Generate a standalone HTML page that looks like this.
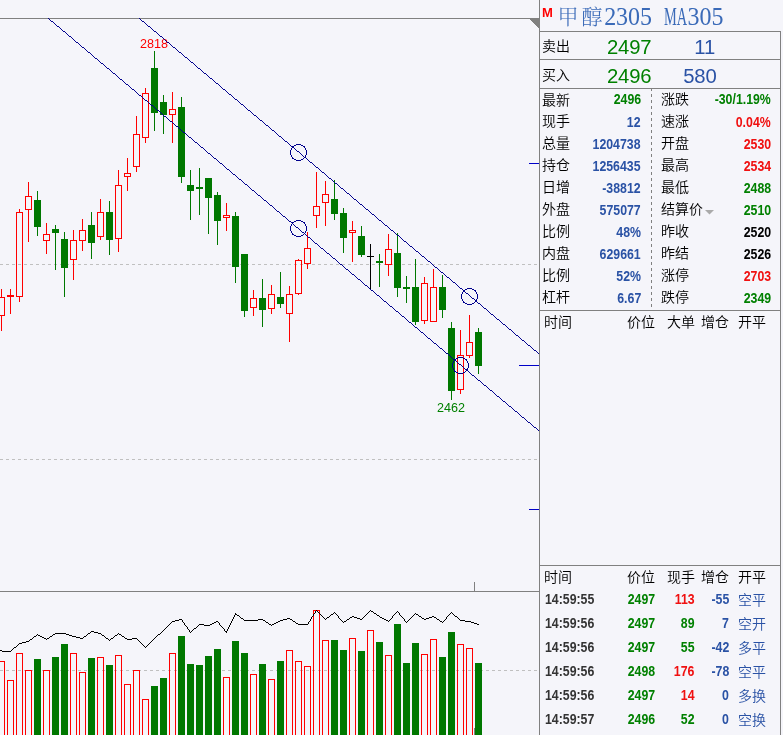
<!DOCTYPE html><html><head><meta charset="utf-8"><title>甲醇2305</title><style>
html,body{margin:0;padding:0;background:#f5f5fa;}
body{width:783px;height:735px;position:relative;overflow:hidden;font-family:"Liberation Sans","Noto Sans CJK SC",sans-serif;}
.a{position:absolute;white-space:nowrap;line-height:1;}
.ln{position:absolute;background:#808080;}
.c{font-size:14px;color:#000;font-weight:350;}
.n{font-size:14px;font-weight:bold;transform:scaleX(0.88);transform-origin:100% 50%;}
.nl{transform-origin:0 50%;}
.g{color:#008000;} .r{color:#f01010;} .b{color:#2a52a5;} .k{color:#000;}
.big{font-size:20.3px;letter-spacing:-0.2px;}
.tl{font-size:24px;letter-spacing:-0.1px;transform:scaleY(1.03);transform-origin:0 0;}
.t{font-family:"Liberation Serif","Noto Serif CJK SC",serif;color:#3a6ab8;font-size:24px;}

</style></head><body>
<svg width="540" height="735" viewBox="0 0 540 735" style="position:absolute;left:0;top:0" shape-rendering="crispEdges">
<rect x="0" y="18" width="540" height="1" fill="#808080"/>
<rect x="0" y="591" width="540" height="1" fill="#808080"/>
<line x1="0" y1="264.5" x2="538" y2="264.5" stroke="#c0c0c0" stroke-width="1" stroke-dasharray="3 3"/>
<line x1="0" y1="459.5" x2="538" y2="459.5" stroke="#c0c0c0" stroke-width="1" stroke-dasharray="3 3"/>
<line x1="0" y1="670.5" x2="538" y2="670.5" stroke="#c0c0c0" stroke-width="1" stroke-dasharray="3 3"/>
<rect x="474" y="582" width="1" height="9" fill="#808080"/>
<rect x="474" y="728" width="1" height="7" fill="#808080"/>
<rect x="1" y="289" width="1" height="8" fill="#ff0000"/>
<rect x="1" y="316" width="1" height="15" fill="#ff0000"/>
<rect x="-1.5" y="297.5" width="6" height="18" fill="none" stroke="#ff0000" stroke-width="1"/>
<rect x="10" y="289" width="1" height="25" fill="#ff0000"/>
<rect x="7" y="295" width="7" height="2" fill="#ff0000"/>
<rect x="19" y="209" width="1" height="3" fill="#ff0000"/>
<rect x="19" y="297" width="1" height="5" fill="#ff0000"/>
<rect x="16.5" y="212.5" width="6" height="84" fill="none" stroke="#ff0000" stroke-width="1"/>
<rect x="28" y="182" width="1" height="14" fill="#ff0000"/>
<rect x="28" y="210" width="1" height="32" fill="#ff0000"/>
<rect x="25.5" y="196.5" width="6" height="13" fill="none" stroke="#ff0000" stroke-width="1"/>
<rect x="37" y="191" width="1" height="45" fill="#007800"/>
<rect x="34" y="200" width="7" height="27" fill="#007800"/>
<rect x="46" y="223" width="1" height="11" fill="#ff0000"/>
<rect x="46" y="241" width="1" height="13" fill="#ff0000"/>
<rect x="43.5" y="234.5" width="6" height="6" fill="none" stroke="#ff0000" stroke-width="1"/>
<rect x="55" y="225" width="1" height="45" fill="#007800"/>
<rect x="52" y="229" width="7" height="4" fill="#007800"/>
<rect x="64" y="232" width="1" height="65" fill="#007800"/>
<rect x="61" y="239" width="7" height="29" fill="#007800"/>
<rect x="73" y="230" width="1" height="10" fill="#ff0000"/>
<rect x="73" y="260" width="1" height="20" fill="#ff0000"/>
<rect x="70.5" y="240.5" width="6" height="19" fill="none" stroke="#ff0000" stroke-width="1"/>
<rect x="82" y="219" width="1" height="11" fill="#ff0000"/>
<rect x="82" y="241" width="1" height="10" fill="#ff0000"/>
<rect x="79.5" y="230.5" width="6" height="10" fill="none" stroke="#ff0000" stroke-width="1"/>
<rect x="91" y="212" width="1" height="47" fill="#007800"/>
<rect x="88" y="225" width="7" height="18" fill="#007800"/>
<rect x="100" y="199" width="1" height="13" fill="#ff0000"/>
<rect x="100" y="237" width="1" height="3" fill="#ff0000"/>
<rect x="97.5" y="212.5" width="6" height="24" fill="none" stroke="#ff0000" stroke-width="1"/>
<rect x="109" y="201" width="1" height="54" fill="#007800"/>
<rect x="106" y="212" width="7" height="28" fill="#007800"/>
<rect x="118" y="170" width="1" height="15" fill="#ff0000"/>
<rect x="118" y="239" width="1" height="13" fill="#ff0000"/>
<rect x="115.5" y="185.5" width="6" height="53" fill="none" stroke="#ff0000" stroke-width="1"/>
<rect x="127" y="158" width="1" height="15" fill="#ff0000"/>
<rect x="127" y="177" width="1" height="14" fill="#ff0000"/>
<rect x="124.5" y="173.5" width="6" height="3" fill="none" stroke="#ff0000" stroke-width="1"/>
<rect x="136" y="116" width="1" height="18" fill="#ff0000"/>
<rect x="136" y="167" width="1" height="5" fill="#ff0000"/>
<rect x="133.5" y="134.5" width="6" height="32" fill="none" stroke="#ff0000" stroke-width="1"/>
<rect x="145" y="88" width="1" height="5" fill="#ff0000"/>
<rect x="145" y="138" width="1" height="5" fill="#ff0000"/>
<rect x="142.5" y="93.5" width="6" height="44" fill="none" stroke="#ff0000" stroke-width="1"/>
<rect x="154" y="51" width="1" height="80" fill="#007800"/>
<rect x="151" y="68" width="7" height="45" fill="#007800"/>
<rect x="163" y="95" width="1" height="39" fill="#007800"/>
<rect x="160" y="102" width="7" height="13" fill="#007800"/>
<rect x="172" y="92" width="1" height="17" fill="#ff0000"/>
<rect x="172" y="115" width="1" height="28" fill="#ff0000"/>
<rect x="169.5" y="109.5" width="6" height="5" fill="none" stroke="#ff0000" stroke-width="1"/>
<rect x="181" y="97" width="1" height="86" fill="#007800"/>
<rect x="178" y="107" width="7" height="70" fill="#007800"/>
<rect x="190" y="170" width="1" height="50" fill="#007800"/>
<rect x="187" y="185" width="7" height="6" fill="#007800"/>
<rect x="199" y="168" width="1" height="47" fill="#007800"/>
<rect x="196" y="187" width="7" height="2" fill="#007800"/>
<rect x="208" y="178" width="1" height="56" fill="#007800"/>
<rect x="205" y="178" width="7" height="20" fill="#007800"/>
<rect x="217" y="192" width="1" height="53" fill="#007800"/>
<rect x="214" y="195" width="7" height="26" fill="#007800"/>
<rect x="226" y="203" width="1" height="12" fill="#ff0000"/>
<rect x="226" y="218" width="1" height="13" fill="#ff0000"/>
<rect x="223.5" y="215.5" width="6" height="2" fill="none" stroke="#ff0000" stroke-width="1"/>
<rect x="235" y="212" width="1" height="71" fill="#007800"/>
<rect x="232" y="216" width="7" height="51" fill="#007800"/>
<rect x="244" y="254" width="1" height="63" fill="#007800"/>
<rect x="241" y="254" width="7" height="57" fill="#007800"/>
<rect x="253" y="290" width="1" height="8" fill="#ff0000"/>
<rect x="253" y="308" width="1" height="8" fill="#ff0000"/>
<rect x="250.5" y="298.5" width="6" height="9" fill="none" stroke="#ff0000" stroke-width="1"/>
<rect x="262" y="279" width="1" height="48" fill="#007800"/>
<rect x="259" y="298" width="7" height="12" fill="#007800"/>
<rect x="271" y="285" width="1" height="9" fill="#ff0000"/>
<rect x="271" y="309" width="1" height="5" fill="#ff0000"/>
<rect x="268.5" y="294.5" width="6" height="14" fill="none" stroke="#ff0000" stroke-width="1"/>
<rect x="280" y="272" width="1" height="36" fill="#007800"/>
<rect x="277" y="297" width="7" height="7" fill="#007800"/>
<rect x="289" y="286" width="1" height="8" fill="#ff0000"/>
<rect x="289" y="314" width="1" height="28" fill="#ff0000"/>
<rect x="286.5" y="294.5" width="6" height="19" fill="none" stroke="#ff0000" stroke-width="1"/>
<rect x="298" y="259" width="1" height="1" fill="#ff0000"/>
<rect x="298" y="294" width="1" height="1" fill="#ff0000"/>
<rect x="295.5" y="260.5" width="6" height="33" fill="none" stroke="#ff0000" stroke-width="1"/>
<rect x="307" y="232" width="1" height="16" fill="#ff0000"/>
<rect x="307" y="264" width="1" height="5" fill="#ff0000"/>
<rect x="304.5" y="248.5" width="6" height="15" fill="none" stroke="#ff0000" stroke-width="1"/>
<rect x="316" y="172" width="1" height="34" fill="#ff0000"/>
<rect x="316" y="216" width="1" height="12" fill="#ff0000"/>
<rect x="313.5" y="206.5" width="6" height="9" fill="none" stroke="#ff0000" stroke-width="1"/>
<rect x="325" y="181" width="1" height="13" fill="#ff0000"/>
<rect x="325" y="203" width="1" height="23" fill="#ff0000"/>
<rect x="322.5" y="194.5" width="6" height="8" fill="none" stroke="#ff0000" stroke-width="1"/>
<rect x="334" y="180" width="1" height="40" fill="#007800"/>
<rect x="331" y="199" width="7" height="15" fill="#007800"/>
<rect x="343" y="208" width="1" height="45" fill="#007800"/>
<rect x="340" y="213" width="7" height="25" fill="#007800"/>
<rect x="352" y="221" width="1" height="9" fill="#ff0000"/>
<rect x="352" y="233" width="1" height="29" fill="#ff0000"/>
<rect x="349.5" y="230.5" width="6" height="2" fill="none" stroke="#ff0000" stroke-width="1"/>
<rect x="361" y="226" width="1" height="31" fill="#007800"/>
<rect x="358" y="236" width="7" height="19" fill="#007800"/>
<rect x="370" y="244" width="1" height="45" fill="#000000"/>
<rect x="367" y="256" width="7" height="1" fill="#000000"/>
<rect x="379" y="254" width="1" height="33" fill="#007800"/>
<rect x="376" y="261" width="7" height="2" fill="#007800"/>
<rect x="388" y="234" width="1" height="15" fill="#ff0000"/>
<rect x="388" y="265" width="1" height="11" fill="#ff0000"/>
<rect x="385.5" y="249.5" width="6" height="15" fill="none" stroke="#ff0000" stroke-width="1"/>
<rect x="397" y="233" width="1" height="64" fill="#007800"/>
<rect x="394" y="253" width="7" height="35" fill="#007800"/>
<rect x="406" y="276" width="1" height="27" fill="#007800"/>
<rect x="403" y="287" width="7" height="2" fill="#007800"/>
<rect x="415" y="259" width="1" height="66" fill="#007800"/>
<rect x="412" y="287" width="7" height="35" fill="#007800"/>
<rect x="424" y="277" width="1" height="6" fill="#ff0000"/>
<rect x="424" y="321" width="1" height="3" fill="#ff0000"/>
<rect x="421.5" y="283.5" width="6" height="37" fill="none" stroke="#ff0000" stroke-width="1"/>
<rect x="433" y="269" width="1" height="18" fill="#ff0000"/>
<rect x="430.5" y="287.5" width="6" height="34" fill="none" stroke="#ff0000" stroke-width="1"/>
<rect x="442" y="275" width="1" height="43" fill="#007800"/>
<rect x="439" y="287" width="7" height="23" fill="#007800"/>
<rect x="451" y="322" width="1" height="78" fill="#007800"/>
<rect x="448" y="328" width="7" height="63" fill="#007800"/>
<rect x="460" y="330" width="1" height="25" fill="#ff0000"/>
<rect x="460" y="390" width="1" height="4" fill="#ff0000"/>
<rect x="457.5" y="355.5" width="6" height="34" fill="none" stroke="#ff0000" stroke-width="1"/>
<rect x="469" y="315" width="1" height="27" fill="#ff0000"/>
<rect x="469" y="356" width="1" height="2" fill="#ff0000"/>
<rect x="466.5" y="342.5" width="6" height="13" fill="none" stroke="#ff0000" stroke-width="1"/>
<rect x="478" y="328" width="1" height="46" fill="#007800"/>
<rect x="475" y="332" width="7" height="34" fill="#007800"/>
<rect x="-1.5" y="661.5" width="6" height="79" fill="none" stroke="#ff0000" stroke-width="1"/>
<rect x="7.5" y="680.5" width="6" height="60" fill="none" stroke="#ff0000" stroke-width="1"/>
<rect x="16.5" y="653.5" width="6" height="87" fill="none" stroke="#ff0000" stroke-width="1"/>
<rect x="25.5" y="670.5" width="6" height="70" fill="none" stroke="#ff0000" stroke-width="1"/>
<rect x="34" y="659" width="7" height="81" fill="#007800"/>
<rect x="43.5" y="670.5" width="6" height="70" fill="none" stroke="#ff0000" stroke-width="1"/>
<rect x="52" y="657" width="7" height="83" fill="#007800"/>
<rect x="61" y="644" width="7" height="96" fill="#007800"/>
<rect x="70.5" y="653.5" width="6" height="87" fill="none" stroke="#ff0000" stroke-width="1"/>
<rect x="79.5" y="672.5" width="6" height="68" fill="none" stroke="#ff0000" stroke-width="1"/>
<rect x="88" y="658" width="7" height="82" fill="#007800"/>
<rect x="97.5" y="657.5" width="6" height="83" fill="none" stroke="#ff0000" stroke-width="1"/>
<rect x="106" y="665" width="7" height="75" fill="#007800"/>
<rect x="115.5" y="655.5" width="6" height="85" fill="none" stroke="#ff0000" stroke-width="1"/>
<rect x="124.5" y="684.5" width="6" height="56" fill="none" stroke="#ff0000" stroke-width="1"/>
<rect x="133.5" y="670.5" width="6" height="70" fill="none" stroke="#ff0000" stroke-width="1"/>
<rect x="142.5" y="699.5" width="6" height="41" fill="none" stroke="#ff0000" stroke-width="1"/>
<rect x="151" y="686" width="7" height="54" fill="#007800"/>
<rect x="160" y="678" width="7" height="62" fill="#007800"/>
<rect x="169.5" y="653.5" width="6" height="87" fill="none" stroke="#ff0000" stroke-width="1"/>
<rect x="178" y="636" width="7" height="104" fill="#007800"/>
<rect x="187" y="664" width="7" height="76" fill="#007800"/>
<rect x="196" y="665" width="7" height="75" fill="#007800"/>
<rect x="205" y="656" width="7" height="84" fill="#007800"/>
<rect x="214" y="649" width="7" height="91" fill="#007800"/>
<rect x="223.5" y="677.5" width="6" height="63" fill="none" stroke="#ff0000" stroke-width="1"/>
<rect x="232" y="641" width="7" height="99" fill="#007800"/>
<rect x="241" y="653" width="7" height="87" fill="#007800"/>
<rect x="250.5" y="674.5" width="6" height="66" fill="none" stroke="#ff0000" stroke-width="1"/>
<rect x="259" y="664" width="7" height="76" fill="#007800"/>
<rect x="268.5" y="679.5" width="6" height="61" fill="none" stroke="#ff0000" stroke-width="1"/>
<rect x="277" y="661" width="7" height="79" fill="#007800"/>
<rect x="286.5" y="650.5" width="6" height="90" fill="none" stroke="#ff0000" stroke-width="1"/>
<rect x="295.5" y="661.5" width="6" height="79" fill="none" stroke="#ff0000" stroke-width="1"/>
<rect x="304.5" y="666.5" width="6" height="74" fill="none" stroke="#ff0000" stroke-width="1"/>
<rect x="313.5" y="610.5" width="6" height="130" fill="none" stroke="#ff0000" stroke-width="1"/>
<rect x="322.5" y="640.5" width="6" height="100" fill="none" stroke="#ff0000" stroke-width="1"/>
<rect x="331" y="640" width="7" height="100" fill="#007800"/>
<rect x="340" y="650" width="7" height="90" fill="#007800"/>
<rect x="349.5" y="638.5" width="6" height="102" fill="none" stroke="#ff0000" stroke-width="1"/>
<rect x="358" y="651" width="7" height="89" fill="#007800"/>
<rect x="367.5" y="630.5" width="6" height="110" fill="none" stroke="#ff0000" stroke-width="1"/>
<rect x="376" y="642" width="7" height="98" fill="#007800"/>
<rect x="385.5" y="655.5" width="6" height="85" fill="none" stroke="#ff0000" stroke-width="1"/>
<rect x="394" y="624" width="7" height="116" fill="#007800"/>
<rect x="403" y="663" width="7" height="77" fill="#007800"/>
<rect x="412" y="643" width="7" height="97" fill="#007800"/>
<rect x="421.5" y="654.5" width="6" height="86" fill="none" stroke="#ff0000" stroke-width="1"/>
<rect x="430.5" y="639.5" width="6" height="101" fill="none" stroke="#ff0000" stroke-width="1"/>
<rect x="439" y="657" width="7" height="83" fill="#007800"/>
<rect x="448" y="632" width="7" height="108" fill="#007800"/>
<rect x="457.5" y="644.5" width="6" height="96" fill="none" stroke="#ff0000" stroke-width="1"/>
<rect x="466.5" y="648.5" width="6" height="92" fill="none" stroke="#ff0000" stroke-width="1"/>
<rect x="475" y="663" width="7" height="77" fill="#007800"/>
<path d="M316 610h1v1h-1zM370 610h1v1h-1zM315 611h1v1h-1zM317 611h1v1h-1zM369 611h1v1h-1zM371 611h2v1h-2zM397 611h1v1h-1zM315 612h1v1h-1zM318 612h1v1h-1zM334 612h1v1h-1zM368 612h1v1h-1zM373 612h1v1h-1zM396 612h1v1h-1zM398 612h1v1h-1zM451 612h1v1h-1zM235 613h1v1h-1zM314 613h1v1h-1zM319 613h1v1h-1zM333 613h1v1h-1zM335 613h1v1h-1zM367 613h1v1h-1zM374 613h2v1h-2zM395 613h1v1h-1zM399 613h1v1h-1zM415 613h1v1h-1zM450 613h1v1h-1zM452 613h1v1h-1zM235 614h2v1h-2zM313 614h1v1h-1zM320 614h1v1h-1zM331 614h2v1h-2zM336 614h1v1h-1zM366 614h1v1h-1zM376 614h1v1h-1zM394 614h1v1h-1zM399 614h1v1h-1zM414 614h1v1h-1zM416 614h2v1h-2zM449 614h1v1h-1zM453 614h1v1h-1zM234 615h1v1h-1zM237 615h2v1h-2zM313 615h1v1h-1zM321 615h1v1h-1zM330 615h1v1h-1zM337 615h1v1h-1zM365 615h1v1h-1zM377 615h2v1h-2zM393 615h1v1h-1zM400 615h1v1h-1zM413 615h1v1h-1zM418 615h1v1h-1zM448 615h1v1h-1zM454 615h1v1h-1zM234 616h1v1h-1zM239 616h1v1h-1zM312 616h1v1h-1zM322 616h1v1h-1zM329 616h1v1h-1zM338 616h1v1h-1zM352 616h2v1h-2zM364 616h1v1h-1zM379 616h1v1h-1zM392 616h1v1h-1zM401 616h1v1h-1zM412 616h1v1h-1zM419 616h2v1h-2zM432 616h2v1h-2zM447 616h1v1h-1zM455 616h2v1h-2zM233 617h1v1h-1zM240 617h1v1h-1zM311 617h1v1h-1zM323 617h1v1h-1zM327 617h2v1h-2zM338 617h1v1h-1zM350 617h2v1h-2zM354 617h3v1h-3zM363 617h1v1h-1zM380 617h2v1h-2zM392 617h1v1h-1zM402 617h1v1h-1zM411 617h1v1h-1zM421 617h1v1h-1zM429 617h3v1h-3zM434 617h2v1h-2zM446 617h1v1h-1zM457 617h1v1h-1zM233 618h1v1h-1zM241 618h2v1h-2zM287 618h3v1h-3zM311 618h1v1h-1zM324 618h1v1h-1zM326 618h1v1h-1zM339 618h1v1h-1zM349 618h1v1h-1zM357 618h3v1h-3zM362 618h1v1h-1zM382 618h2v1h-2zM391 618h1v1h-1zM403 618h1v1h-1zM410 618h1v1h-1zM422 618h2v1h-2zM426 618h3v1h-3zM436 618h1v1h-1zM446 618h1v1h-1zM458 618h1v1h-1zM179 619h3v1h-3zM232 619h1v1h-1zM243 619h1v1h-1zM258 619h5v1h-5zM283 619h4v1h-4zM290 619h2v1h-2zM310 619h1v1h-1zM325 619h1v1h-1zM340 619h1v1h-1zM347 619h2v1h-2zM360 619h2v1h-2zM384 619h2v1h-2zM390 619h1v1h-1zM404 619h1v1h-1zM409 619h1v1h-1zM424 619h2v1h-2zM437 619h2v1h-2zM445 619h1v1h-1zM459 619h1v1h-1zM175 620h4v1h-4zM182 620h1v1h-1zM232 620h1v1h-1zM244 620h14v1h-14zM263 620h2v1h-2zM280 620h3v1h-3zM292 620h1v1h-1zM310 620h1v1h-1zM341 620h1v1h-1zM346 620h1v1h-1zM386 620h2v1h-2zM389 620h1v1h-1zM404 620h1v1h-1zM408 620h1v1h-1zM439 620h1v1h-1zM444 620h1v1h-1zM460 620h5v1h-5zM172 621h3v1h-3zM182 621h1v1h-1zM216 621h2v1h-2zM231 621h1v1h-1zM265 621h1v1h-1zM278 621h2v1h-2zM293 621h2v1h-2zM309 621h1v1h-1zM342 621h1v1h-1zM344 621h2v1h-2zM388 621h1v1h-1zM405 621h1v1h-1zM407 621h1v1h-1zM440 621h2v1h-2zM443 621h1v1h-1zM465 621h6v1h-6zM171 622h1v1h-1zM183 622h1v1h-1zM214 622h2v1h-2zM218 622h1v1h-1zM231 622h1v1h-1zM266 622h2v1h-2zM276 622h2v1h-2zM295 622h1v1h-1zM308 622h1v1h-1zM343 622h1v1h-1zM406 622h1v1h-1zM442 622h1v1h-1zM471 622h3v1h-3zM170 623h1v1h-1zM184 623h1v1h-1zM212 623h2v1h-2zM219 623h1v1h-1zM230 623h1v1h-1zM268 623h1v1h-1zM274 623h2v1h-2zM296 623h2v1h-2zM308 623h1v1h-1zM474 623h3v1h-3zM169 624h1v1h-1zM184 624h1v1h-1zM199 624h5v1h-5zM210 624h2v1h-2zM219 624h1v1h-1zM230 624h1v1h-1zM269 624h2v1h-2zM272 624h2v1h-2zM298 624h10v1h-10zM477 624h2v1h-2zM168 625h1v1h-1zM185 625h1v1h-1zM198 625h1v1h-1zM204 625h6v1h-6zM220 625h1v1h-1zM229 625h1v1h-1zM271 625h1v1h-1zM167 626h1v1h-1zM186 626h1v1h-1zM197 626h1v1h-1zM221 626h1v1h-1zM229 626h1v1h-1zM166 627h1v1h-1zM187 627h1v1h-1zM196 627h1v1h-1zM222 627h1v1h-1zM228 627h1v1h-1zM165 628h1v1h-1zM187 628h1v1h-1zM194 628h2v1h-2zM223 628h1v1h-1zM228 628h1v1h-1zM164 629h1v1h-1zM188 629h1v1h-1zM193 629h1v1h-1zM224 629h1v1h-1zM227 629h1v1h-1zM163 630h1v1h-1zM189 630h1v1h-1zM192 630h1v1h-1zM224 630h1v1h-1zM227 630h1v1h-1zM91 631h3v1h-3zM162 631h1v1h-1zM189 631h1v1h-1zM191 631h1v1h-1zM225 631h2v1h-2zM90 632h1v1h-1zM94 632h4v1h-4zM161 632h1v1h-1zM190 632h1v1h-1zM226 632h1v1h-1zM55 633h11v1h-11zM88 633h2v1h-2zM98 633h3v1h-3zM118 633h1v1h-1zM160 633h1v1h-1zM37 634h1v1h-1zM53 634h2v1h-2zM66 634h3v1h-3zM87 634h1v1h-1zM101 634h1v1h-1zM117 634h1v1h-1zM119 634h2v1h-2zM158 634h2v1h-2zM36 635h1v1h-1zM38 635h2v1h-2zM52 635h1v1h-1zM69 635h3v1h-3zM86 635h1v1h-1zM102 635h2v1h-2zM115 635h2v1h-2zM121 635h1v1h-1zM157 635h1v1h-1zM34 636h2v1h-2zM40 636h2v1h-2zM50 636h2v1h-2zM72 636h4v1h-4zM84 636h2v1h-2zM104 636h1v1h-1zM114 636h1v1h-1zM122 636h2v1h-2zM156 636h1v1h-1zM33 637h1v1h-1zM42 637h2v1h-2zM49 637h1v1h-1zM76 637h4v1h-4zM83 637h1v1h-1zM105 637h1v1h-1zM113 637h1v1h-1zM124 637h1v1h-1zM155 637h1v1h-1zM32 638h1v1h-1zM44 638h2v1h-2zM47 638h2v1h-2zM80 638h3v1h-3zM106 638h2v1h-2zM111 638h2v1h-2zM125 638h2v1h-2zM132 638h5v1h-5zM154 638h1v1h-1zM30 639h2v1h-2zM46 639h1v1h-1zM108 639h1v1h-1zM110 639h1v1h-1zM127 639h5v1h-5zM137 639h1v1h-1zM153 639h1v1h-1zM29 640h1v1h-1zM109 640h1v1h-1zM138 640h1v1h-1zM152 640h1v1h-1zM26 641h3v1h-3zM139 641h1v1h-1zM151 641h1v1h-1zM22 642h4v1h-4zM140 642h1v1h-1zM150 642h1v1h-1zM19 643h3v1h-3zM141 643h1v1h-1zM149 643h1v1h-1zM18 644h1v1h-1zM142 644h1v1h-1zM148 644h1v1h-1zM17 645h1v1h-1zM143 645h1v1h-1zM147 645h1v1h-1zM16 646h1v1h-1zM144 646h1v1h-1zM146 646h1v1h-1zM14 647h2v1h-2zM145 647h1v1h-1zM13 648h1v1h-1zM12 649h1v1h-1zM0 650h2v1h-2zM11 650h1v1h-1zM2 651h9v1h-9z" fill="#000"/>
<text x="154" y="48" font-family="Liberation Sans, sans-serif" font-size="12.5" textLength="28" lengthAdjust="spacingAndGlyphs" fill="#ff0000" text-anchor="middle" shape-rendering="auto">2818</text>
<text x="451" y="412" font-family="Liberation Sans, sans-serif" font-size="12.5" textLength="28" lengthAdjust="spacingAndGlyphs" fill="#008000" text-anchor="middle" shape-rendering="auto">2462</text>
<line x1="48" y1="18.08" x2="539" y2="430.92" stroke="#00008c" stroke-width="0.77"/>
<line x1="48" y1="18.08" x2="539" y2="430.92" stroke="#00008c" stroke-width="0.77"/>
<line x1="48" y1="18.08" x2="539" y2="430.92" stroke="#00008c" stroke-width="0.77"/>
<line x1="139" y1="18.08" x2="539" y2="353.92" stroke="#00008c" stroke-width="0.77"/>
<line x1="139" y1="18.08" x2="539" y2="353.92" stroke="#00008c" stroke-width="0.77"/>
<line x1="139" y1="18.08" x2="539" y2="353.92" stroke="#00008c" stroke-width="0.77"/>
<circle cx="298.5" cy="152.5" r="8" fill="none" stroke="#00008c" stroke-width="1"/>
<circle cx="298.5" cy="228.5" r="8" fill="none" stroke="#00008c" stroke-width="1"/>
<circle cx="469.5" cy="296.5" r="8" fill="none" stroke="#00008c" stroke-width="1"/>
<circle cx="460.5" cy="365.5" r="8" fill="none" stroke="#00008c" stroke-width="1"/>
<rect x="529" y="163" width="10" height="1" fill="#0000c8"/>
<rect x="519" y="365" width="20" height="1" fill="#0000c8"/>
<rect x="529" y="509" width="10" height="1" fill="#0000c8"/>
</svg>
<div class="ln" style="left:539px;top:0;width:1px;height:735px"></div>
<div class="ln" style="left:780px;top:31px;width:1px;height:704px"></div>
<div class="ln" style="left:539px;top:31px;width:242px;height:1px"></div>
<div class="ln" style="left:539px;top:59px;width:242px;height:1px"></div>
<div class="ln" style="left:539px;top:88px;width:242px;height:1px"></div>
<div class="ln" style="left:539px;top:310px;width:242px;height:1px"></div>
<div class="ln" style="left:539px;top:565px;width:242px;height:1px"></div>
<svg class="a" style="left:529px;top:19px" width="10" height="10" shape-rendering="crispEdges"><polygon points="0,0 10,0 10,10" fill="#808080"/></svg>
<svg class="a" style="left:651px;top:88px" width="1" height="220" shape-rendering="crispEdges"><line x1="0.5" y1="0" x2="0.5" y2="220" stroke="#808080" stroke-dasharray="3 3"/></svg>
<div class="a" style="left:542px;top:6px;font-size:13px;font-weight:bold;color:#ff0000">M</div>
<div class="a t" style="left:557.4px;top:6.5px;font-size:21px;letter-spacing:3px;font-weight:300">甲醇</div>
<div class="a t tl" style="left:604.2px;top:4px">2305</div>
<div class="a t tl" style="left:664px;top:4px"><span style="display:inline-block;transform:scaleX(0.6);transform-origin:0 0;letter-spacing:0">MA</span></div>
<div class="a t tl" style="left:687.6px;top:4px">305</div>
<div class="a c" style="left:542px;top:39px;">卖出</div>
<div class="a c" style="left:542px;top:68px;">买入</div>
<div class="a g big" style="left:607px;top:37px">2497</div>
<div class="a g big" style="left:607px;top:66px">2496</div>
<div class="a b big" style="right:68px;top:37px">11</div>
<div class="a b big" style="right:66.5px;top:66px">580</div>
<div class="a c" style="left:542px;top:93px;">最新</div>
<div class="a n g" style="right:142px;top:92px;">2496</div>
<div class="a c" style="left:661px;top:92px;">涨跌</div>
<div class="a n g" style="right:12px;top:92px;">-30/1.19%</div>
<div class="a c" style="left:542px;top:114px;">现手</div>
<div class="a n b" style="right:142px;top:115px;">12</div>
<div class="a c" style="left:661px;top:114px;">速涨</div>
<div class="a n r" style="right:12px;top:115px;">0.04%</div>
<div class="a c" style="left:542px;top:136px;">总量</div>
<div class="a n b" style="right:142px;top:137px;">1204738</div>
<div class="a c" style="left:661px;top:136px;">开盘</div>
<div class="a n r" style="right:12px;top:137px;">2530</div>
<div class="a c" style="left:542px;top:158px;">持仓</div>
<div class="a n b" style="right:142px;top:159px;">1256435</div>
<div class="a c" style="left:661px;top:158px;">最高</div>
<div class="a n r" style="right:12px;top:159px;">2534</div>
<div class="a c" style="left:542px;top:180px;">日增</div>
<div class="a n b" style="right:142px;top:181px;">-38812</div>
<div class="a c" style="left:661px;top:180px;">最低</div>
<div class="a n g" style="right:12px;top:181px;">2488</div>
<div class="a c" style="left:542px;top:202px;">外盘</div>
<div class="a n b" style="right:142px;top:203px;">575077</div>
<div class="a c" style="left:661px;top:202px;">结算价</div>
<div class="a n g" style="right:12px;top:203px;">2510</div>
<div class="a c" style="left:542px;top:224px;">比例</div>
<div class="a n b" style="right:142px;top:225px;">48%</div>
<div class="a c" style="left:661px;top:224px;">昨收</div>
<div class="a n k" style="right:12px;top:225px;">2520</div>
<div class="a c" style="left:542px;top:246px;">内盘</div>
<div class="a n b" style="right:142px;top:247px;">629661</div>
<div class="a c" style="left:661px;top:246px;">昨结</div>
<div class="a n k" style="right:12px;top:247px;">2526</div>
<div class="a c" style="left:542px;top:268px;">比例</div>
<div class="a n b" style="right:142px;top:269px;">52%</div>
<div class="a c" style="left:661px;top:268px;">涨停</div>
<div class="a n r" style="right:12px;top:269px;">2703</div>
<div class="a c" style="left:542px;top:290px;">杠杆</div>
<div class="a n b" style="right:142px;top:291px;">6.67</div>
<div class="a c" style="left:661px;top:290px;">跌停</div>
<div class="a n g" style="right:12px;top:291px;">2349</div>
<svg class="a" style="left:705px;top:210px" width="10" height="5"><polygon points="0,0 9,0 4.5,4.5" fill="#aaa"/></svg>
<div class="a c" style="left:544px;top:315px;">时间</div>
<div class="a c" style="left:627px;top:315px;">价位</div>
<div class="a c" style="left:667px;top:315px;">大单</div>
<div class="a c" style="left:701px;top:315px;">增仓</div>
<div class="a c" style="left:738px;top:315px;">开平</div>
<div class="a c" style="left:544px;top:570px;">时间</div>
<div class="a c" style="left:627px;top:570px;">价位</div>
<div class="a c" style="left:667px;top:570px;">现手</div>
<div class="a c" style="left:701px;top:570px;">增仓</div>
<div class="a c" style="left:738px;top:570px;">开平</div>
<div class="a n nl k" style="left:545px;top:592px;color:#333">14:59:55</div>
<div class="a n g" style="right:128px;top:592px;">2497</div>
<div class="a n r" style="right:88.5px;top:592px;">113</div>
<div class="a n b" style="right:54px;top:592px;">-55</div>
<div class="a c b" style="left:738px;top:593px;">空平</div>
<div class="a n nl k" style="left:545px;top:616px;color:#333">14:59:56</div>
<div class="a n g" style="right:128px;top:616px;">2497</div>
<div class="a n g" style="right:88.5px;top:616px;">89</div>
<div class="a n b" style="right:54px;top:616px;">7</div>
<div class="a c b" style="left:738px;top:617px;">空开</div>
<div class="a n nl k" style="left:545px;top:640px;color:#333">14:59:56</div>
<div class="a n g" style="right:128px;top:640px;">2497</div>
<div class="a n g" style="right:88.5px;top:640px;">55</div>
<div class="a n b" style="right:54px;top:640px;">-42</div>
<div class="a c b" style="left:738px;top:641px;">多平</div>
<div class="a n nl k" style="left:545px;top:664px;color:#333">14:59:56</div>
<div class="a n g" style="right:128px;top:664px;">2498</div>
<div class="a n r" style="right:88.5px;top:664px;">176</div>
<div class="a n b" style="right:54px;top:664px;">-78</div>
<div class="a c b" style="left:738px;top:665px;">空平</div>
<div class="a n nl k" style="left:545px;top:688px;color:#333">14:59:56</div>
<div class="a n g" style="right:128px;top:688px;">2497</div>
<div class="a n r" style="right:88.5px;top:688px;">14</div>
<div class="a n b" style="right:54px;top:688px;">0</div>
<div class="a c b" style="left:738px;top:689px;">多换</div>
<div class="a n nl k" style="left:545px;top:712px;color:#333">14:59:57</div>
<div class="a n g" style="right:128px;top:712px;">2496</div>
<div class="a n g" style="right:88.5px;top:712px;">52</div>
<div class="a n b" style="right:54px;top:712px;">0</div>
<div class="a c b" style="left:738px;top:713px;">空换</div>
</body></html>
